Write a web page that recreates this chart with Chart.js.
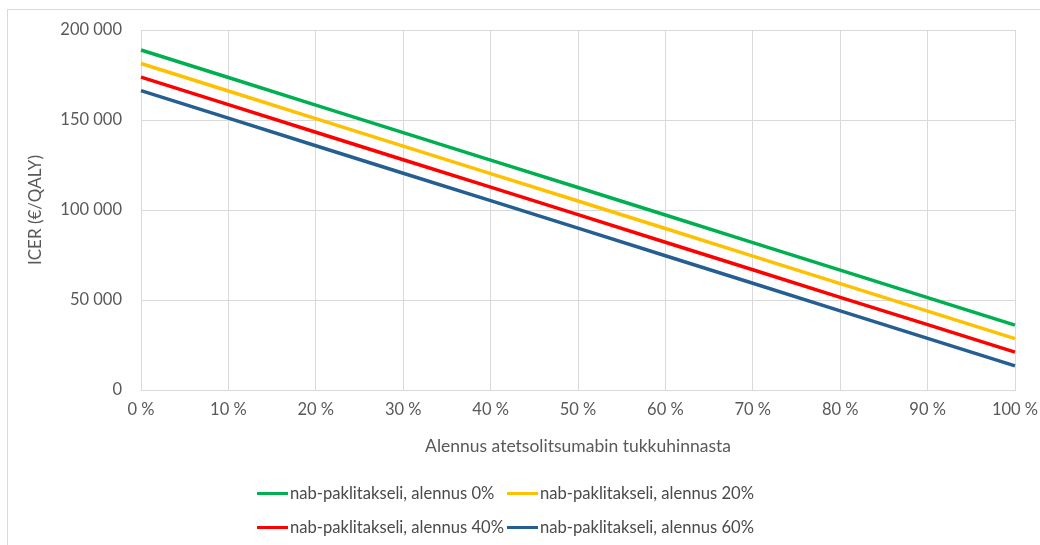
<!DOCTYPE html>
<html>
<head>
<meta charset="utf-8">
<script src="https://cdn.jsdelivr.net/npm/chart.js@4"></script>
<style>
  html, body { margin: 0; padding: 0; background: #fff; }
  #wrap { position: relative; width: 1040px; height: 545px; overflow: hidden; }
  #frame { position: absolute; left: 7px; top: 9px; width: 1100px; height: 600px; border: 1px solid #d9d9d9; box-sizing: border-box; }
  #myChart { position: absolute; left: 0; top: 0; }
  #legend { position: absolute; left: 257px; top: 481px; width: 520px; font-family: Lato, sans-serif; font-size: 16.6px; color: #4a4a4a; }
  .item { position: absolute; display: flex; align-items: center; white-space: nowrap; height: 24px; }
  .swatch { width: 31px; height: 3px; margin-right: 2px; }
</style>
</head>
<body>
<div id="wrap">
  <div id="frame"></div>
  <canvas id="myChart" width="1040" height="545"></canvas>
  <div id="legend"></div>
</div>
<script>
const xLabels = ["0 %", "10 %", "20 %", "30 %", "40 %", "50 %", "60 %", "70 %", "80 %", "90 %", "100 %"];

const seriesNames = [
    "nab-paklitakseli, alennus 0%",
    "nab-paklitakseli, alennus 20%",
    "nab-paklitakseli, alennus 40%",
    "nab-paklitakseli, alennus 60%"
];
const seriesColors = ["#00b050", "#ffc000", "#ff0000", "#255e91"];

// ICER (€/QALY) per discount step
const alennus0 = [188900, 173600, 158300, 143000, 127700, 112500, 97200, 81900, 66600, 51300, 36000];
const alennus20 = [181400, 166100, 150800, 135500, 120200, 105000, 89700, 74400, 59100, 43800, 28500];
const alennus40 = [173800, 158500, 143200, 127900, 112700, 97400, 82100, 66800, 51500, 36300, 21000];
const alennus60 = [166300, 151000, 135700, 120400, 105200, 89900, 74600, 59300, 44000, 28700, 13400];

const yMin = 0;
const yMax = 200000;
const yStep = 50000;

const seriesValues = [alennus0, alennus20, alennus40, alennus60];

const fontFamily = "Lato, sans-serif";
const textColor = "#595959";
const gridColor = "#d9d9d9";

function formatThousands(v) {
    return String(v).replace(/\B(?=(\d{3})+(?!\d))/g, " ");
}

const chart = new Chart(document.getElementById("myChart"), {
    type: "line",
    data: {
        labels: xLabels,
        datasets: seriesValues.map((vals, i) => ({
            label: seriesNames[i],
            data: vals,
            borderColor: seriesColors[i],
            backgroundColor: seriesColors[i],
            borderWidth: 3.5,
            pointRadius: 0,
            fill: false,
            tension: 0
        }))
    },
    options: {
        responsive: false,
        animation: false,
        layout: { padding: { top: 30, right: 25, bottom: 0, left: 0 } },
        plugins: {
            legend: { display: false },
            tooltip: { enabled: false }
        },
        scales: {
            x: {
                offset: false,
                grid: { color: gridColor, lineWidth: 1, drawTicks: false },
                border: { color: gridColor },
                ticks: { color: textColor, font: { family: fontFamily, size: 16.5 }, padding: 10, maxRotation: 0 },
                title: {
                    display: true,
                    text: "Alennus atetsolitsumabin tukkuhinnasta",
                    color: textColor,
                    font: { family: fontFamily, size: 17.5 },
                    padding: { top: 0, bottom: 88 }
                },
                afterFit: (scale) => {
                    scale.height = 155;
                    // let the end labels hang past the plot edges
                    scale.paddingLeft = 0;
                    scale.paddingRight = 0;
                }
            },
            y: {
                min: yMin,
                max: yMax,
                grid: { color: gridColor, lineWidth: 1, drawTicks: false },
                border: { color: gridColor },
                ticks: {
                    stepSize: yStep,
                    color: textColor,
                    font: { family: fontFamily, size: 16.5 },
                    padding: 19,
                    callback: (v) => formatThousands(v)
                },
                title: {
                    display: true,
                    text: "ICER (€/QALY)",
                    color: textColor,
                    font: { family: fontFamily, size: 17 },
                    padding: { top: 25, bottom: 0 }
                },
                afterFit: (scale) => { scale.width = 141; }
            }
        }
    }
});

// legend laid out in a fixed two-column grid
const legendEl = document.getElementById("legend");
chart.data.datasets.forEach((ds, i) => {
    const item = document.createElement("div");
    item.className = "item";
    item.style.left = (i % 2) * 250 + "px";
    item.style.top = Math.floor(i / 2) * 34 + "px";
    const sw = document.createElement("span");
    sw.className = "swatch";
    sw.style.background = ds.borderColor;
    item.appendChild(sw);
    item.appendChild(document.createTextNode(ds.label));
    legendEl.appendChild(item);
});
</script>
</body>
</html>
